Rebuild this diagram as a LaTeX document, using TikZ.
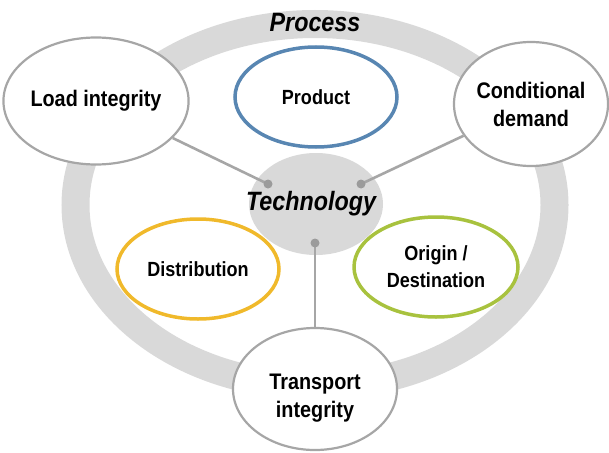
\documentclass[tikz,border=0pt]{standalone}
\usepackage{fontspec}
\setmainfont{Liberation Sans}[FakeStretch=0.88]
\usepackage{tikz}
\usetikzlibrary{shapes.geometric}

\definecolor{ringgray}{RGB}{217,217,217}
\definecolor{edgegray}{RGB}{166,166,166}
\definecolor{dotgray}{RGB}{155,155,155}
\definecolor{prodblue}{RGB}{88,134,178}
\definecolor{distyellow}{RGB}{240,185,43}
\definecolor{origgreen}{RGB}{168,194,62}

\begin{document}
\begin{tikzpicture}[x=1pt,y=-1pt,
      ring/.style={draw=ringgray,line width=28pt},
      outer/.style={ellipse,draw=edgegray,line width=2.2pt,fill=white,inner sep=0pt,
        align=center,font=\bfseries\fontsize{22.5}{28}\selectfont},
      inner/.style={ellipse,line width=3.5pt,fill=white,inner sep=0pt,
        align=center,font=\bfseries\fontsize{20.5}{27}\selectfont},
      title/.style={font=\bfseries\itshape\fontsize{26.5}{30}\selectfont},
      link/.style={draw=edgegray,line width=2.6pt},
      dot/.style={circle,fill=dotgray,inner sep=0pt,minimum size=9pt}]
    \useasboundingbox (0,0) rectangle (609,452);
    % ring of the process
    \draw[ring] (315,205) ellipse [x radius=239.5, y radius=181];
    \node[title] (process) at (315,23) {Process};
    % technology in the middle
    \node[ellipse,fill=ringgray,minimum width=134pt,minimum height=102pt,
      inner sep=0pt,title] (tech) at (316,204) {\makebox[0pt]{\hspace{-10pt}Technology}};
    % nodes on the ring
    \node[outer,minimum width=165pt,minimum height=127pt] (load) at (96,101) {Load integrity};
    \node[outer,minimum width=154pt,minimum height=124pt] (cond) at (531,104) {Conditional\\demand};
    \node[outer,minimum width=164pt,minimum height=122pt] (trans) at (315,389) {};
    \node[align=center,font=\bfseries\fontsize{22.5}{28}\selectfont] (transtext) at (315,398) {Transport\\integrity};
    % nodes inside the ring
    \node[inner,draw=prodblue,minimum width=162pt,minimum height=100pt] (prod) at (316,97) {Product};
    \node[inner,draw=distyellow,minimum width=162pt,minimum height=100pt] (dist) at (198,269) {Distribution};
    \node[inner,draw=origgreen,minimum width=164pt,minimum height=100pt] (orig) at (436,267) {Origin /\\Destination};
    % links to technology
    \coordinate (dotl) at (268,184);
    \coordinate (dotr) at (361,184);
    \coordinate (dotb) at (315,243);
    \draw[link] (load) -- (dotl);
    \draw[link] (cond) -- (dotr);
    \draw[link] (dotb) -- (trans);
    \node[dot] (dotlend) at (dotl) {};
    \node[dot] (dotrend) at (dotr) {};
    \node[dot] (dotbend) at (dotb) {};
  \end{tikzpicture}
\end{document}
